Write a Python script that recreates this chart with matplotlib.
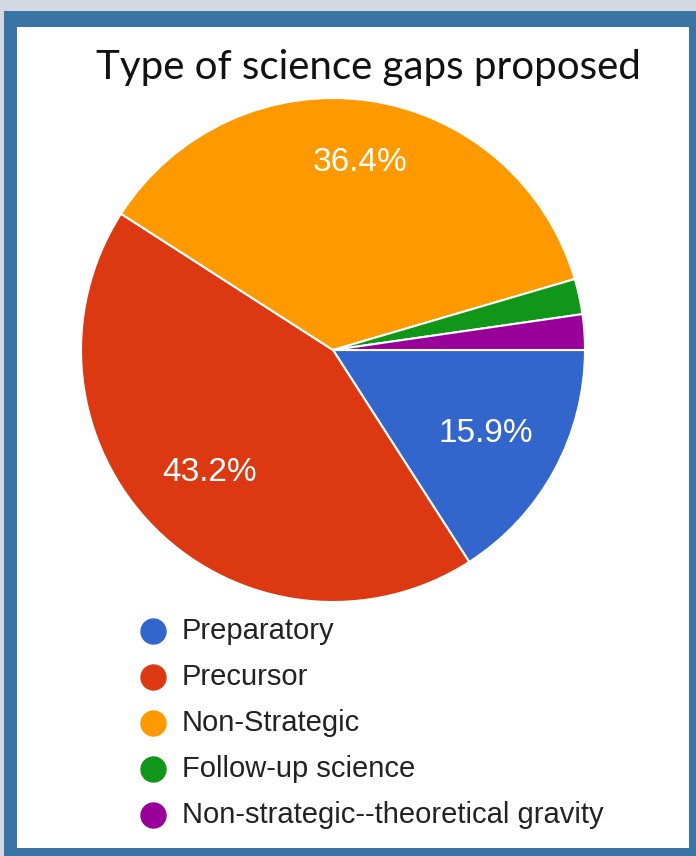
import numpy as np
import matplotlib
matplotlib.use("Agg")
import matplotlib.pyplot as plt
from matplotlib.patches import Rectangle

# survey answers (44 responses)
categories = ["Preparatory", "Precursor", "Non-Strategic",
              "Follow-up science", "Non-strategic--theoretical gravity"]
counts = [7, 19, 16, 1, 1]
colors = ["#3366cc", "#dc3912", "#ff9900", "#109618", "#990099"]
title = "Type of science gaps proposed"

W, H = 696, 856
fig = plt.figure(figsize=(W / 100, H / 100), dpi=100)
fig.patch.set_facecolor("#d3d9e3")

# overlay in pixel coordinates for frame, title and legend
bg = fig.add_axes([0, 0, 1, 1])
bg.set_xlim(0, W)
bg.set_ylim(H, 0)
bg.axis("off")
bg.add_patch(Rectangle((4, 11), W - 4, H - 11, facecolor="#3a74a4", edgecolor="none"))
bg.add_patch(Rectangle((17, 27), 689 - 17, 848 - 27, facecolor="white", edgecolor="none"))

bg.text(368, 67, title, fontsize=29, family="Lato", color="#111111",
        ha="center", va="center")

# legend
y0, dy = 631, 46
for i, (name, c) in enumerate(zip(categories, colors)):
    y = y0 + i * dy
    bg.plot(153, y, "o", ms=19, color=c, mec="none")
    bg.text(182, y, name, fontsize=21, family="Liberation Sans",
            color="#222222", ha="left", va="center")

# pie, centre (333, 350) px, radius 252 px
cx, cy, r = 333, 350, 252
ax = fig.add_axes([(cx - r) / W, (H - cy - r) / H, 2 * r / W, 2 * r / H])


def pct(p):
    return "%.1f%%" % p if p > 5 else ""


wedges, texts, autotexts = ax.pie(
    counts, colors=colors, startangle=0, counterclock=False,
    autopct=pct, pctdistance=0.75,
    wedgeprops=dict(edgecolor="white", linewidth=1.5),
    textprops=dict(color="white", fontsize=24, family="Liberation Sans"))

# pull the side labels a little toward the centre
for w, t in zip(wedges, autotexts):
    a = np.deg2rad((w.theta1 + w.theta2) / 2)
    d = 0.75 if abs(np.sin(a)) > 0.9 else 0.69
    t.set_position((d * np.cos(a), d * np.sin(a)))

ax.set_aspect("equal")
ax.set_xlim(-1, 1)
ax.set_ylim(-1, 1)

fig.savefig("out.png", dpi=100, facecolor=fig.get_facecolor())
